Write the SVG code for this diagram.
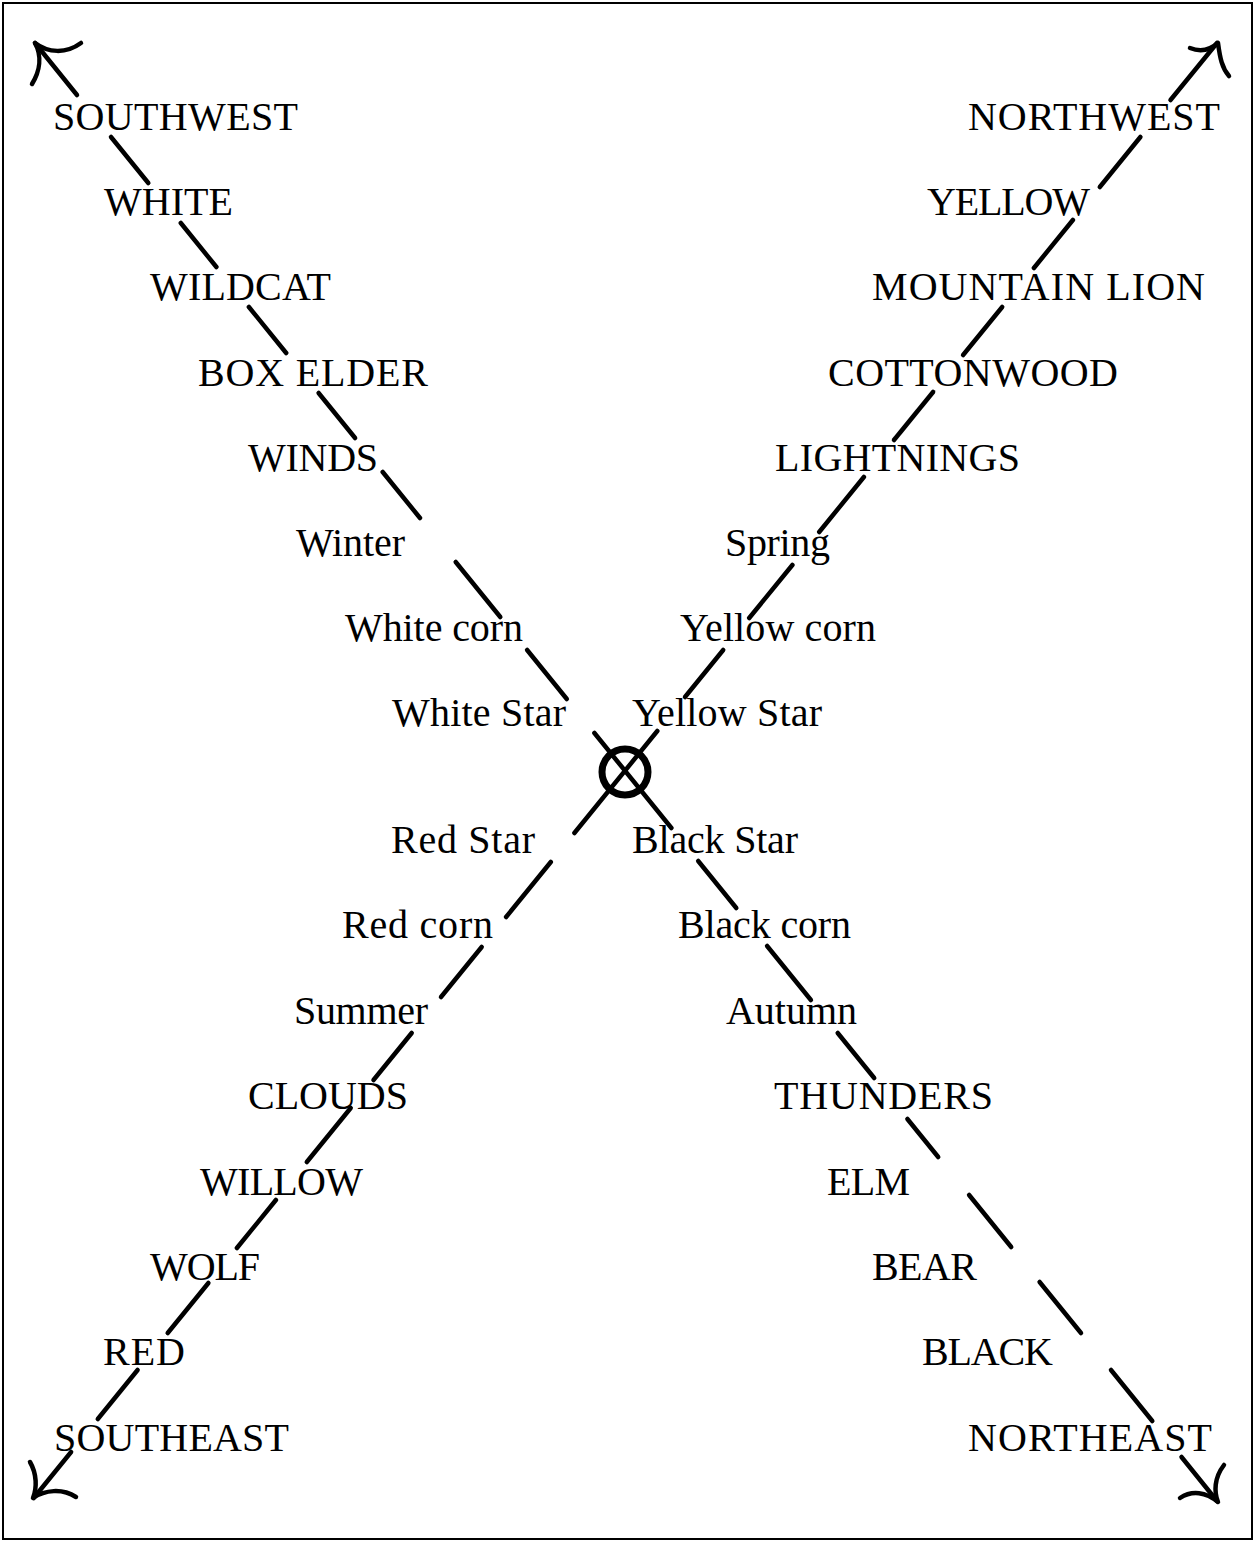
<svg xmlns="http://www.w3.org/2000/svg" width="1256" height="1543" viewBox="0 0 1256 1543">
<style>
text{font-family:"Liberation Serif","Times New Roman",serif;font-size:40px;fill:#000}
.ln{stroke:#000;stroke-width:4.5;stroke-linecap:round;fill:none}
.ah{stroke:#000;stroke-width:4.5;stroke-linecap:round;stroke-linejoin:round;fill:none}
</style>
<rect width="1256" height="1543" fill="#fff"/>
<rect x="3" y="3" width="1249" height="1536" fill="none" stroke="#000" stroke-width="2"/>
<g id="connectors">
<g id="axis-sw-ne">
<line class="ln" x1="35" y1="43" x2="77" y2="95"/>
<line class="ln" x1="111" y1="137" x2="148.3" y2="183"/>
<line class="ln" x1="180.8" y1="223" x2="216.4" y2="267"/>
<line class="ln" x1="248.9" y1="307" x2="286.2" y2="353"/>
<line class="ln" x1="318.6" y1="393" x2="355.1" y2="438"/>
<line class="ln" x1="382.7" y1="472" x2="420" y2="518"/>
<line class="ln" x1="455.7" y1="562" x2="500.3" y2="617"/>
<line class="ln" x1="527.1" y1="650" x2="566.8" y2="699"/>
<line class="ln" x1="594.4" y1="733" x2="671.4" y2="828"/>
<line class="ln" x1="698.2" y1="861" x2="736.3" y2="908"/>
<line class="ln" x1="767.1" y1="946" x2="810.9" y2="1000"/>
<line class="ln" x1="837.7" y1="1033" x2="874.2" y2="1078"/>
<line class="ln" x1="907.4" y1="1119" x2="938.2" y2="1157"/>
<line class="ln" x1="969.1" y1="1195" x2="1011.2" y2="1247"/>
<line class="ln" x1="1039.6" y1="1282" x2="1081" y2="1333"/>
<line class="ln" x1="1111" y1="1370" x2="1152.3" y2="1421"/>
<line class="ln" x1="1181.5" y1="1457" x2="1217" y2="1501"/>
</g>
<g id="axis-nw-se">
<line class="ln" x1="1217" y1="43" x2="1170.5" y2="100"/>
<line class="ln" x1="1140.4" y1="137" x2="1099.8" y2="187"/>
<line class="ln" x1="1072.9" y1="220" x2="1033.9" y2="268"/>
<line class="ln" x1="1002.2" y1="307" x2="963.1" y2="355"/>
<line class="ln" x1="933.1" y1="392" x2="894" y2="440"/>
<line class="ln" x1="863.9" y1="477" x2="819.2" y2="532"/>
<line class="ln" x1="792.4" y1="565" x2="749.2" y2="618"/>
<line class="ln" x1="723.2" y1="650" x2="685" y2="697"/>
<line class="ln" x1="657.3" y1="731" x2="574.4" y2="833"/>
<line class="ln" x1="550.8" y1="862" x2="506.1" y2="917"/>
<line class="ln" x1="481.7" y1="947" x2="441" y2="997"/>
<line class="ln" x1="411.7" y1="1033" x2="373.5" y2="1080"/>
<line class="ln" x1="350.7" y1="1108" x2="306.8" y2="1162"/>
<line class="ln" x1="275.9" y1="1200" x2="236.9" y2="1248"/>
<line class="ln" x1="208.4" y1="1283" x2="167.7" y2="1333"/>
<line class="ln" x1="137.6" y1="1370" x2="97.8" y2="1419"/>
<line class="ln" x1="71.1" y1="1452" x2="33.7" y2="1498"/>
</g>
<g id="arrowheads">
<path class="ah" d="M32,84 C40,71 42,56 35,43 C48,53 66,54 81,43"/>
<path class="ah" d="M1190,48 C1200,52 1210,50 1218,43 C1220,58 1222,68 1229,76"/>
<path class="ah" d="M30,1462 C37,1474 37,1488 33,1498 C45,1490 62,1488 76,1497"/>
<path class="ah" d="M1224,1465 C1214,1478 1214,1492 1218,1502 C1206,1492 1192,1490 1180,1498"/>
</g>
</g>
<g id="center"><circle cx="625" cy="772" r="23" fill="none" stroke="#000" stroke-width="7"/></g>
<g id="n-southwest"><text x="53" y="130" textLength="245" lengthAdjust="spacing">SOUTHWEST</text></g>
<g id="n-white"><text x="104" y="215" textLength="129" lengthAdjust="spacing">WHITE</text></g>
<g id="n-wildcat"><text x="150" y="300" textLength="181" lengthAdjust="spacing">WILDCAT</text></g>
<g id="n-box-elder"><text x="198" y="386" textLength="230" lengthAdjust="spacing">BOX ELDER</text></g>
<g id="n-winds"><text x="248" y="471" textLength="130" lengthAdjust="spacing">WINDS</text></g>
<g id="n-winter"><text x="296" y="556" textLength="109" lengthAdjust="spacing">Winter</text></g>
<g id="n-white-corn"><text x="345" y="641" textLength="178" lengthAdjust="spacing">White corn</text></g>
<g id="n-white-star"><text x="392" y="726" textLength="174" lengthAdjust="spacing">White Star</text></g>
<g id="n-northwest"><text x="968" y="130" textLength="252" lengthAdjust="spacing">NORTHWEST</text></g>
<g id="n-yellow"><text x="927" y="215" textLength="163" lengthAdjust="spacing">YELLOW</text></g>
<g id="n-mountain-lion"><text x="872" y="300" textLength="333" lengthAdjust="spacing">MOUNTAIN LION</text></g>
<g id="n-cottonwood"><text x="828" y="386" textLength="290" lengthAdjust="spacing">COTTONWOOD</text></g>
<g id="n-lightnings"><text x="775" y="471" textLength="245" lengthAdjust="spacing">LIGHTNINGS</text></g>
<g id="n-spring"><text x="725" y="556" textLength="105" lengthAdjust="spacing">Spring</text></g>
<g id="n-yellow-corn"><text x="680" y="641" textLength="196" lengthAdjust="spacing">Yellow corn</text></g>
<g id="n-yellow-star"><text x="632" y="726" textLength="190" lengthAdjust="spacing">Yellow Star</text></g>
<g id="n-red-star"><text x="391" y="853" textLength="144" lengthAdjust="spacing">Red Star</text></g>
<g id="n-red-corn"><text x="342" y="938" textLength="151" lengthAdjust="spacing">Red corn</text></g>
<g id="n-summer"><text x="294" y="1024" textLength="134" lengthAdjust="spacing">Summer</text></g>
<g id="n-clouds"><text x="248" y="1109" textLength="160" lengthAdjust="spacing">CLOUDS</text></g>
<g id="n-willow"><text x="200" y="1195" textLength="163" lengthAdjust="spacing">WILLOW</text></g>
<g id="n-wolf"><text x="150" y="1280" textLength="110" lengthAdjust="spacing">WOLF</text></g>
<g id="n-red"><text x="103" y="1365" textLength="82" lengthAdjust="spacing">RED</text></g>
<g id="n-southeast"><text x="54" y="1451" textLength="235" lengthAdjust="spacing">SOUTHEAST</text></g>
<g id="n-black-star"><text x="632" y="853" textLength="166" lengthAdjust="spacing">Black Star</text></g>
<g id="n-black-corn"><text x="678" y="938" textLength="173" lengthAdjust="spacing">Black corn</text></g>
<g id="n-autumn"><text x="726" y="1024" textLength="131" lengthAdjust="spacing">Autumn</text></g>
<g id="n-thunders"><text x="774" y="1109" textLength="219" lengthAdjust="spacing">THUNDERS</text></g>
<g id="n-elm"><text x="827" y="1195" textLength="83" lengthAdjust="spacing">ELM</text></g>
<g id="n-bear"><text x="872" y="1280" textLength="105" lengthAdjust="spacing">BEAR</text></g>
<g id="n-black"><text x="922" y="1365" textLength="131" lengthAdjust="spacing">BLACK</text></g>
<g id="n-northeast"><text x="968" y="1451" textLength="244" lengthAdjust="spacing">NORTHEAST</text></g>
</svg>
